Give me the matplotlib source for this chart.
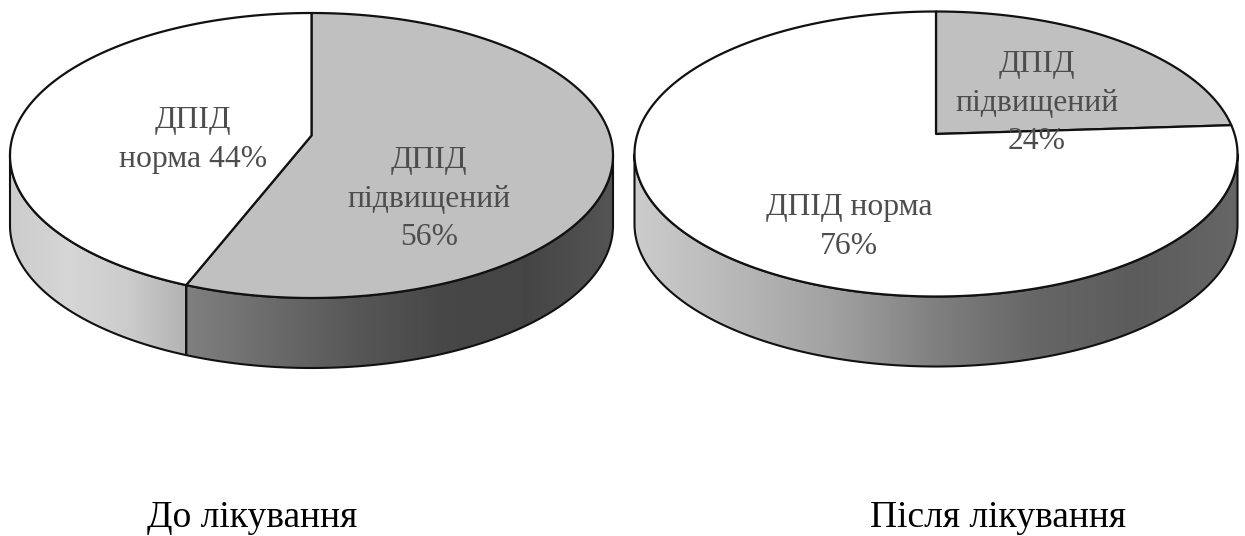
import numpy as np
import matplotlib.pyplot as plt
from matplotlib.colors import LinearSegmentedColormap
from matplotlib.patches import Polygon

plt.rcParams['font.family'] = ['Liberation Serif', 'DejaVu Sans']

# shares in percent, clockwise from twelve o'clock
before_vals = [56, 44]
after_vals = [24, 76]
before_labels = ['ДПІД\nпідвищений\n56%', 'ДПІД\nнорма 44%']
after_labels = ['ДПІД\nпідвищений\n24%', 'ДПІД норма\n76%']
titles = ['До лікування', 'Після лікування']

# geometry in pixels
RX = 301.5
RY = 142.5
DEPTH = 70
VERTEX_UP = 20
TOP_GREY = '#c0c0c0'
LABEL_GREY = '#4d4d4d'


def hit_angle(theta):
    # where a ray from the off-centre vertex meets the rim (unit circle space)
    v = np.array([0.0, -VERTEX_UP / RY])
    d = np.array([np.sin(theta), -np.cos(theta)])
    b = v @ d
    t = -b + np.sqrt(b * b - (v @ v - 1))
    p = v + t * d
    return np.arctan2(p[0], -p[1]) % (2 * np.pi)


def rim(cx, cy, a):
    return np.column_stack([cx + RX * np.sin(a), cy - RY * np.cos(a)])


def draw_side(ax, cx, cy, a0, a1, shades):
    # only the front half of the wall can be seen
    a0 = max(a0, np.pi / 2)
    a1 = min(a1, 3 * np.pi / 2)
    if a1 <= a0:
        return
    a = np.linspace(a0, a1, 200)
    upper = rim(cx, cy, a)
    lower = upper + [0, DEPTH]
    poly = Polygon(np.vstack([upper, lower[::-1]]), closed=True, fc='none',
                   ec='#111111', lw=1.5, zorder=3, joinstyle='round')
    ax.add_patch(poly)
    x0, x1 = upper[:, 0].min(), upper[:, 0].max()
    cmap = LinearSegmentedColormap.from_list('wall', [str(s) for s in shades])
    grad = np.linspace(0, 1, 256).reshape(1, -1)
    im = ax.imshow(grad, cmap=cmap, vmin=0, vmax=1, aspect='auto', zorder=2,
                   extent=[x0, x1, cy + RY + DEPTH + 5, cy - RY])
    im.set_clip_path(poly)


def draw_disc(ax, cx, cy, vals, colors, wall_shades):
    edges = np.cumsum([0] + list(vals)) / sum(vals) * 2 * np.pi
    starts = [0.0] + [hit_angle(e) for e in edges[1:-1]]
    ends = starts[1:] + [2 * np.pi]
    vertex = (cx, cy - VERTEX_UP)
    for a0, a1, col, shades in zip(starts, ends, colors, wall_shades):
        draw_side(ax, cx, cy, a0, a1, shades)
    for a0, a1, col in zip(starts, ends, colors):
        arc = rim(cx, cy, np.linspace(a0, a1, 300))
        ax.add_patch(Polygon(np.vstack([[vertex], arc]), closed=True, fc=col,
                             ec='#111111', lw=1.6, zorder=4, joinstyle='round'))


fig = plt.figure(figsize=(12.45, 5.36), dpi=100)
ax = fig.add_axes([0, 0, 1, 1])

draw_disc(ax, 311.5, 155.5, before_vals, [TOP_GREY, 'white'],
          [[0.50, 0.42, 0.34, 0.28, 0.27, 0.33], [0.80, 0.84, 0.80, 0.70]])
draw_disc(ax, 936, 154, after_vals, [TOP_GREY, 'white'],
          [[0.5, 0.5], [0.80, 0.72, 0.63, 0.50, 0.40, 0.36, 0.40]])

ax.set_xlim(0, 1245)
ax.set_ylim(536, 0)
ax.axis('off')

label_font = dict(fontsize=22.8, color=LABEL_GREY, ha='center', va='center',
                  linespacing=1.45, zorder=5)
ax.text(429, 199, before_labels[0], **label_font)
ax.text(193, 140, before_labels[1], **label_font)
ax.text(1037, 103, after_labels[0], **label_font)
ax.text(849, 227, after_labels[1], **label_font)

ax.text(252, 527, titles[0], fontsize=27, color='black', ha='center', va='baseline')
ax.text(998, 527, titles[1], fontsize=27, color='black', ha='center', va='baseline')

plt.savefig('out.png', dpi=100)
